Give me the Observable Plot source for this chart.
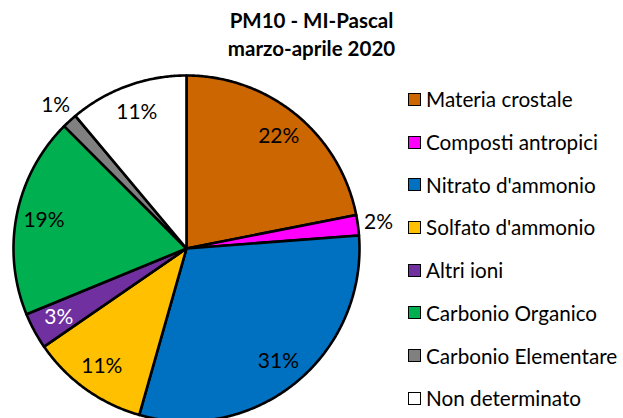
<!DOCTYPE html>
<html><head><meta charset="utf-8">
<script src="https://cdn.jsdelivr.net/npm/d3@7"></script>
<script src="https://cdn.jsdelivr.net/npm/@observablehq/plot@0.6"></script>
<style>
body{margin:0;background:#fff;font-family:Lato,"Open Sans",sans-serif;}
#wrap{position:relative;width:623px;height:418px;overflow:hidden;}
#chart{position:absolute;left:0;top:0;}
#title{position:absolute;left:0;top:6px;width:623px;text-align:center;font-weight:bold;font-size:20.5px;line-height:28px;color:#000;}
.row{position:absolute;left:408px;display:flex;align-items:center;height:24px;font-size:20.7px;color:#000;white-space:nowrap;}
.sw{width:11px;height:11px;border:1.6px solid #000;margin-right:5px;box-sizing:content-box;}
</style></head>
<body>
<div id="wrap">
<div id="chart"></div>
<div id="title">PM10 - MI-Pascal<br>marzo-aprile 2020</div>
<div id="legend"></div>
</div>
<script>
const categories = ["Materia crostale","Composti antropici","Nitrato d'ammonio","Solfato d'ammonio","Altri ioni","Carbonio Organico","Carbonio Elementare","Non determinato"];
const values = [21.9, 1.9, 30.6, 11.0, 3.4, 18.7, 1.4, 11.1];
const colors = ["#CC6600","#FF00FF","#0070C0","#FFC000","#7030A0","#00B050","#808080","#FFFFFF"];

const data = categories.map((name, i) => ({name, value: values[i]}));
const arcs = d3.pie().sort(null).value(d => d.value)(data);

const pts = [];
for (const a of arcs) {
  const name = a.data.name;
  pts.push({name, x: 0, y: 0});
  const n = Math.max(2, Math.ceil((a.endAngle - a.startAngle) / (Math.PI / 360)));
  for (let k = 0; k <= n; k++) {
    const t = a.startAngle + (a.endAngle - a.startAngle) * k / n;
    pts.push({name, x: Math.sin(t), y: Math.cos(t)});
  }
  pts.push({name, x: 0, y: 0});
}
const labels = arcs.map(a => {
  const m = (a.startAngle + a.endAngle) / 2;
  const r = a.data.value < 3 ? 1.12 : 0.84;
  return {name: a.data.name, x: r * Math.sin(m), y: r * Math.cos(m), text: Math.round(a.data.value) + "%"};
});

const R = 173, cx = 186, cy = 248, W = 623, H = 418;
const chart = Plot.plot({
  width: W, height: H, margin: 0,
  style: {fontFamily: "Lato", fontSize: "21px", background: "transparent"},
  x: {domain: [-cx / R, (W - cx) / R], axis: null},
  y: {domain: [-(H - cy) / R, cy / R], axis: null},
  color: {domain: categories, range: colors},
  marks: [
    Plot.line(pts, {x: "x", y: "y", z: "name", fill: "name", stroke: "#000", strokeWidth: 2.6, strokeLinejoin: "round"}),
    Plot.text(labels.filter(d => d.name !== "Altri ioni"), {x: "x", y: "y", text: "text", fill: "#000", fontSize: 21}),
    Plot.text(labels.filter(d => d.name === "Altri ioni"), {x: "x", y: "y", text: "text", fill: "#fff", fontSize: 21})
  ]
});
document.getElementById("chart").appendChild(chart);

const leg = document.getElementById("legend");
categories.forEach((c, i) => {
  const row = document.createElement("div");
  row.className = "row";
  row.style.top = (99.3 + i * 42.7 - 12) + "px";
  const sw = document.createElement("span");
  sw.className = "sw";
  sw.style.background = colors[i];
  const tx = document.createElement("span");
  tx.textContent = c;
  row.appendChild(sw); row.appendChild(tx);
  leg.appendChild(row);
});
</script>
</body></html>
